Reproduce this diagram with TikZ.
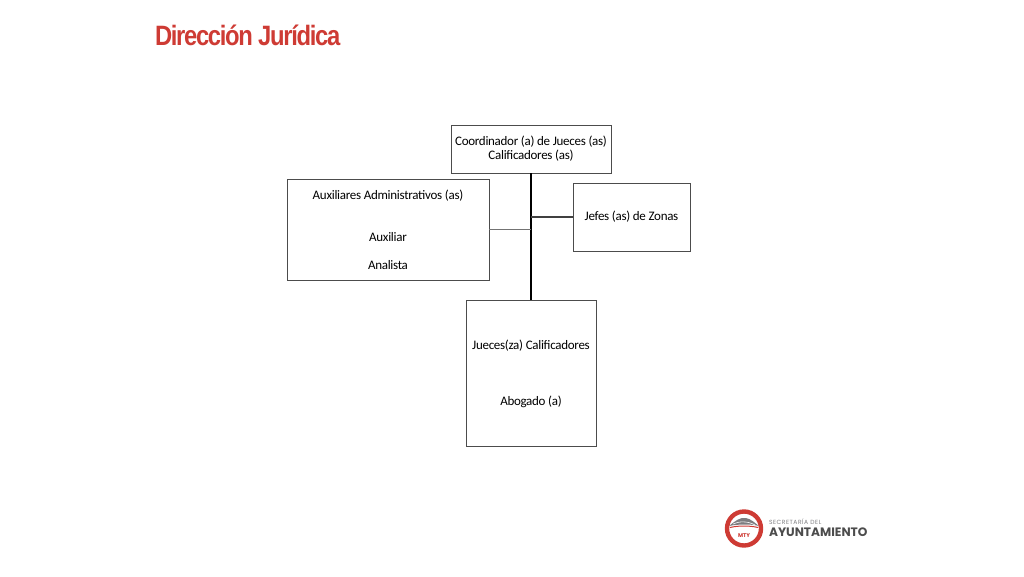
\documentclass[tikz,border=0pt]{standalone}
\usepackage{fontspec}
\setmainfont[LetterSpace=-2.2]{Carlito}
\newfontfamily\titlefont[FakeStretch=0.85,LetterSpace=-4.7]{Liberation Sans}
\newfontfamily\logofont{Poppins}
\newfontfamily\logowide[LetterSpace=9]{Poppins}
\usetikzlibrary{positioning}
\definecolor{titlered}{RGB}{206,59,52}
\definecolor{logogray}{RGB}{125,125,128}
\begin{document}
\begin{tikzpicture}[x=1pt,y=-1pt,outer sep=0pt,
    box/.style={draw=black!70,line width=.9pt,align=center,inner sep=0pt,font=\fontsize{13}{14}\selectfont},
    mainline/.style={draw=black,line width=1.5pt},
    sideline/.style={draw=black!75,line width=1.1pt},
    thinline/.style={draw=black!55,line width=1.1pt}]
    \useasboundingbox (0,0) rectangle (1024,576);
    \node[anchor=west,inner sep=0pt,text=titlered,font=\titlefont\bfseries\fontsize{28}{30}\selectfont](title) at (155,35.5){Dirección Jurídica};
    \node[box,minimum width=160pt,minimum height=48pt](top) at (531,149){Coordinador (a) de Jueces (as)\\Calificadores (as)};
    \node[box,minimum width=130pt,minimum height=146pt](bottom)[below=127pt of top]{\rule{0pt}{12pt}Jueces(za) Calificadores\\[42pt]Abogado (a)};
    \node[box,minimum width=117pt,minimum height=68pt](jefes)[below right=10pt and -38pt of top.south east]{Jefes (as) de Zonas};
    \node[box,minimum width=202pt,minimum height=101pt](aux)[below left=6pt and -38pt of top.south west]{Auxiliares Administrativos (as)\\[28pt]Auxiliar\\[14pt]Analista};
    \draw[mainline](top) -- (bottom);
    \draw[sideline](jefes.west) -- (jefes.west -| top.south);
    \draw[thinline](aux.east) -- (aux.east -| top.south);
    % logo
    \coordinate (logo) at (744,528.5);
    \fill[logogray] (729,526) .. controls (735,521) and (740,517) .. (746,518) .. controls (751,519) and (755,523) .. (759,526) .. controls (752,524) and (738,524) .. (729,526);
    \draw[white,line width=.6pt] (733,524) .. controls (739,521) and (748,521) .. (755,525);
    \draw[titlered,line width=1pt] (730,527.5) .. controls (738,525.5) and (750,525.5) .. (758,527.5);
    \draw[titlered,line width=4.4pt] (logo) circle (17pt);
    \node[text=titlered,inner sep=0pt,font=\logofont\bfseries\fontsize{5.5}{6}\selectfont](mty) at (744,535.5){MTY};
    \node[anchor=west,inner sep=0pt,text=logogray,font=\logowide\fontsize{6}{7}\selectfont](secretaria) at (769,522){SECRETARÍA DEL};
    \node[anchor=west,inner sep=0pt,text=black!70,font=\logofont\bfseries\fontsize{12.2}{13}\selectfont](ayto) at (769,532.5){AYUNTAMIENTO};
\end{tikzpicture}
\end{document}
